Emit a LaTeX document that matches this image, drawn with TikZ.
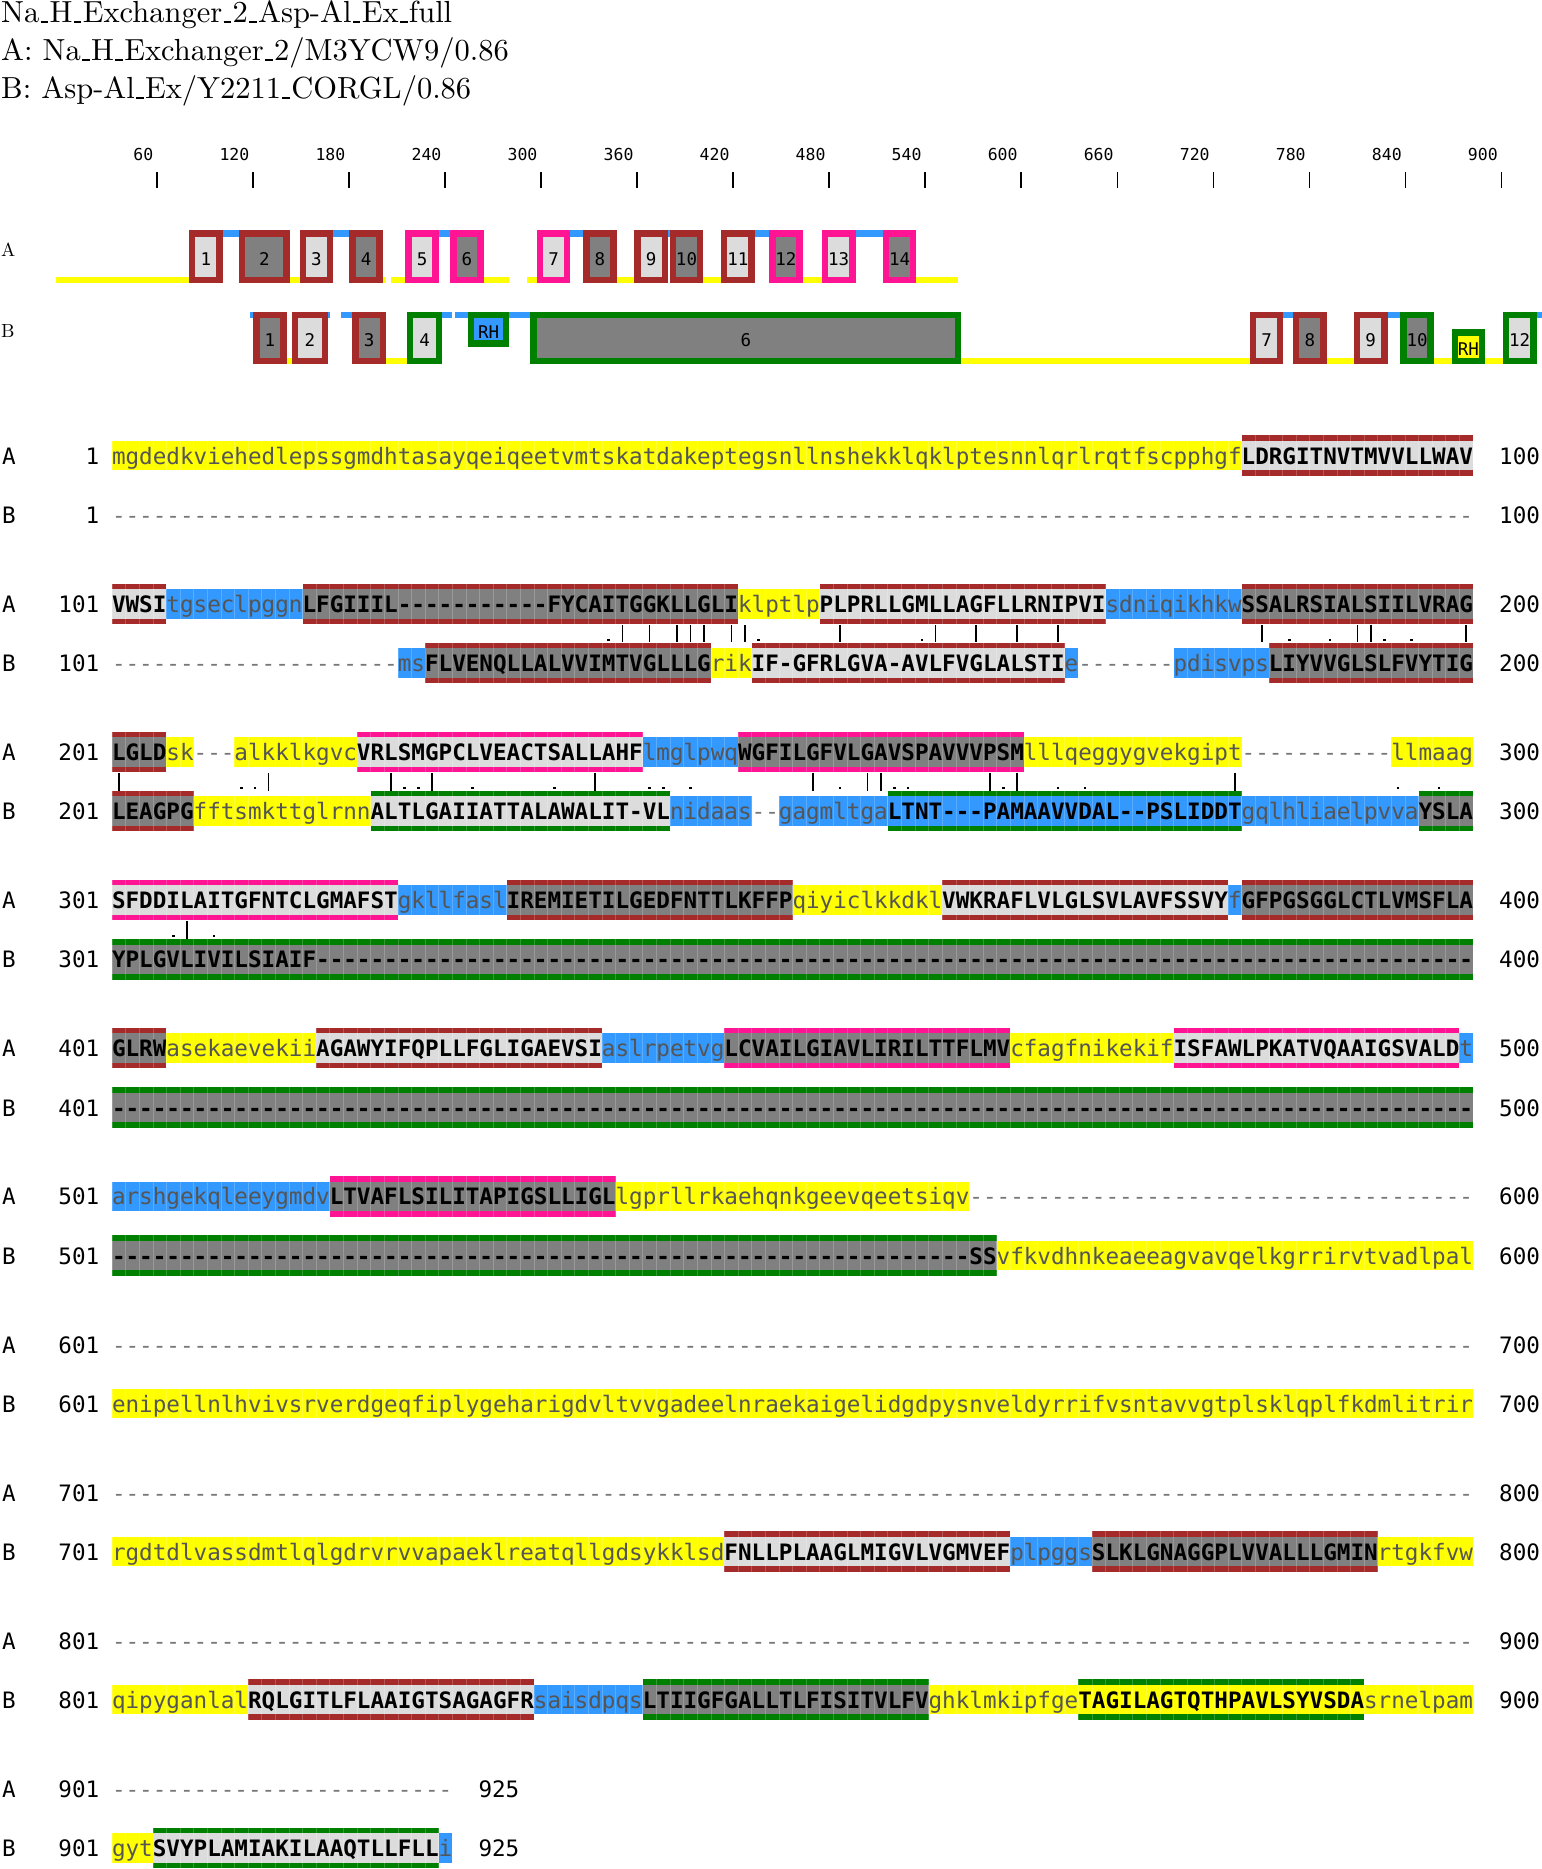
\documentclass[tikz,border=0pt]{standalone}
\usepackage{fontspec}
\setmonofont{DejaVu Sans Mono}
\newfontfamily\titlefnt{lmroman10-regular.otf}
\definecolor{cyel}{HTML}{FFFF00}
\definecolor{cblue}{HTML}{3399FF}
\definecolor{tmdk}{HTML}{808080}
\definecolor{tmlt}{HTML}{DCDCDC}
\definecolor{cbrown}{HTML}{A52A2A}
\definecolor{cpink}{HTML}{FF1493}
\definecolor{cgreen}{HTML}{008000}
\definecolor{lowcol}{HTML}{555555}
\definecolor{gapcol}{HTML}{777777}
\newcommand\seqfnt{\ttfamily\fontsize{22.6}{24}\selectfont}
\newcommand\lblfnt{\ttfamily\fontsize{17.5}{18}\selectfont}
\newcommand\rulfnt{\ttfamily\fontsize{16.5}{17}\selectfont}
\newcommand\us{\kern1.4pt\rule[-1pt]{7.5pt}{1.6pt}\kern1.4pt}
\tikzset{
  seqtxt/.style={anchor=base,inner sep=0pt,font=\seqfnt},
  numtxt/.style={inner sep=0pt,font=\seqfnt},
  boxlbl/.style={anchor=base,inner sep=0pt,font=\lblfnt},
  sepline/.style={draw=white,draw opacity=0.2,line width=0.6pt},
  titletxt/.style={anchor=base west,inner sep=0pt,font=\titlefnt\fontsize{30.5}{32}\selectfont},
}
\newcount\xcol
\newcount\xlen
\def\xgobble#1{}
\def\xfirst#1{#1}
\def\xcountloop#1{\ifx\relax#1\expandafter\xgobble\else\expandafter\xfirst\fi{\global\advance\xlen by 1 \xcountloop}}
\def\xputloop#1{\ifx\relax#1\expandafter\xgobble\else\expandafter\xfirst\fi{\xputchar{#1}\xputloop}}
\def\xputchar#1{\node[seqtxt] at ({112+13.61*(\the\xcol-0.5)},\xcy) {\xstyle #1};\global\advance\xcol by 1 }
\newcommand\SegSep[4]{\foreach \i in {0,...,#3}{\draw[sepline] ({112+13.61*(#2-1+\i)},#1-#4) -- ({112+13.61*(#2-1+\i)},#1+#4);}}
\newcommand\SegPlain[4]{%
  \global\xlen=0 \xcountloop#3\relax
  \edef\xn{\the\xlen}%
  \fill[#4] ({112+13.61*(#2-1)},#1-14.7) rectangle ({112+13.61*(#2-1+\xn)},#1+14.7);
  \SegSep{#1}{#2}{\xn}{14.7}%
  \def\xcy{#1+8.7}\def\xstyle{\color{lowcol}}%
  \global\xcol=#2\relax
  \xputloop#3\relax}
\newcommand\SegY[3]{\SegPlain{#1}{#2}{#3}{cyel}}
\newcommand\SegL[3]{\SegPlain{#1}{#2}{#3}{cblue}}
\newcommand\SegFrame[5]{% yc, j, n, fill, bar
  \fill[#4] ({112+13.61*(#2-1)},#1-14.7) rectangle ({112+13.61*(#2-1+#3)},#1+14.7);
  \fill[#5] ({112+13.61*(#2-1)},#1-20.3) rectangle ({112+13.61*(#2-1+#3)},#1-14.7);
  \fill[#5] ({112+13.61*(#2-1)},#1+14.7) rectangle ({112+13.61*(#2-1+#3)},#1+20.3);
  \SegSep{#1}{#2}{#3}{20.3}}
\newcommand\SegT[5]{% yc, j, fill, bar, text
  \global\xlen=0 \xcountloop#5\relax
  \edef\xn{\the\xlen}%
  \SegFrame{#1}{#2}{\xn}{#3}{#4}%
  \def\xcy{#1+8.7}\def\xstyle{\bfseries}%
  \global\xcol=#2\relax
  \xputloop#5\relax}
\newcommand\SegTD[5]{% yc, j, n, fill, bar
  \SegFrame{#1}{#2}{#3}{#4}{#5}%
  \foreach \i in {1,...,#3}{\node[seqtxt] at ({112+13.61*(#2+\i-1.5)},#1+8.7) {\bfseries -};}}
\newcommand\SegG[3]{\foreach \i in {1,...,#3}{\node[seqtxt,text=gapcol] at ({112+13.61*(#2+\i-1.5)},#1+8.7) {-};}}
\newcommand\TSeg[5]{\fill[#5] ({54.4+1.6023*#1},#3) rectangle ({54.4+1.6023*(#2+1)},#4);}
\newcommand\TBox[8]{%
  \draw[line width=6.5pt,draw=#6,fill=#5] ({54.4+1.6023*#1+3.25},#3+3.25) rectangle ({54.4+1.6023*(#2+1)-3.25},#4-3.25);
  \node[boxlbl] at ({54.4+1.6023*(#1+#2+1)/2},#8) {#7};}
\newcommand\RowLabs[5]{%
  \node[numtxt,anchor=base west] at (1.8,#1+8.7) {A};
  \node[numtxt,anchor=base east] at (99.5,#1+8.7) {#3};
  \node[numtxt,anchor=base west] at (#5,#1+8.7) {#4};
  \node[numtxt,anchor=base west] at (1.8,#2+8.7) {B};
  \node[numtxt,anchor=base east] at (99.5,#2+8.7) {#3};
  \node[numtxt,anchor=base west] at (#5,#2+8.7) {#4};}
\newcommand\MBar[2]{\draw[line width=1.5pt] ({112+13.61*(#2-0.5)},#1+21) -- ({112+13.61*(#2-0.5)},#1+38.6);}
\newcommand\MDot[2]{\fill ({112+13.61*(#2-0.5)-1.3},#1+34.8) rectangle ++(2.6,2.6);}
\begin{document}
\begin{tikzpicture}[x=1pt,y=-1pt]
\fill[white] (0,0) rectangle (1542,1869);
\useasboundingbox (0,0) rectangle (1542,1869);
% title
\node[titletxt] (t1) at (1,22) {Na\us H\us Exchanger\us 2\us Asp-Al\us Ex\us full};
\node[titletxt] (t2) at (1,60) {A: Na\us H\us Exchanger\us 2/M3YCW9/0.86};
\node[titletxt] (t3) at (1,98) {B: Asp-Al\us Ex/Y2211\us CORGL/0.86};
% ruler
\foreach \v [count=\k from 0] in {60,120,...,900}{
  \draw[line width=1.6pt] ({157+96.03*\k},172) -- ({157+96.03*\k},188);
  \node[anchor=base east,inner sep=0pt,font=\rulfnt] at ({157+96.03*\k-3.5},160) {\v};
}
% track labels
\node[anchor=base west,inner sep=0pt,font=\titlefnt\fontsize{19}{19}\selectfont] (ta) at (1,256.7) {A};
\node[anchor=base west,inner sep=0pt,font=\titlefnt\fontsize{19}{19}\selectfont] (tb) at (1,337.7) {B};
% track A lines
\foreach \a/\b in {1/83,147/152,205/206,210/218,268/283,295/300,351/361,405/415,467/478,538/563}{\TSeg{\a}{\b}{277.3}{283.3}{cyel}}
\foreach \a/\b in {105/114,174/183,240/246,322/329,383/383,437/445,500/516}{\TSeg{\a}{\b}{230}{236.7}{cblue}}
% track A boxes
\TBox{84}{104}{230}{283.3}{tmlt}{cbrown}{1}{265.7}
\TBox{115}{146}{230}{283.3}{tmdk}{cbrown}{2}{265.7}
\TBox{153}{173}{230}{283.3}{tmlt}{cbrown}{3}{265.7}
\TBox{184}{204}{230}{283.3}{tmdk}{cbrown}{4}{265.7}
\TBox{219}{239}{230}{283.3}{tmlt}{cpink}{5}{265.7}
\TBox{247}{267}{230}{283.3}{tmdk}{cpink}{6}{265.7}
\TBox{301}{321}{230}{283.3}{tmlt}{cpink}{7}{265.7}
\TBox{330}{350}{230}{283.3}{tmdk}{cbrown}{8}{265.7}
\TBox{362}{382}{230}{283.3}{tmlt}{cbrown}{9}{265.7}
\TBox{384}{404}{230}{283.3}{tmdk}{cbrown}{10}{265.7}
\TBox{416}{436}{230}{283.3}{tmlt}{cbrown}{11}{265.7}
\TBox{446}{466}{230}{283.3}{tmdk}{cpink}{12}{265.7}
\TBox{479}{499}{230}{283.3}{tmlt}{cpink}{13}{265.7}
\TBox{517}{537}{230}{283.3}{tmdk}{cpink}{14}{265.7}
% track B lines
\foreach \a/\b in {122/123,171/171,179/185,242/247,250/257,284/296,767/772,832/839}{\TSeg{\a}{\b}{311.7}{318.3}{cblue}}
\fill[cblue] ({54.4+1.6023*925},311.7) rectangle (1542,318.3);
\foreach \a/\b in {145/147,207/219,566/745,794/810,861/871,893/903}{\TSeg{\a}{\b}{358.3}{364.3}{cyel}}
% track B boxes
\TBox{124}{144}{311.7}{364.3}{tmdk}{cbrown}{1}{346.7}
\TBox{148}{170}{311.7}{364.3}{tmlt}{cbrown}{2}{346.7}
\TBox{186}{206}{311.7}{364.3}{tmdk}{cbrown}{3}{346.7}
\TBox{220}{241}{311.7}{364.3}{tmlt}{cgreen}{4}{346.7}
\TBox{258}{283}{311.7}{346.7}{cblue}{cgreen}{RH}{338.3}
\TBox{297}{565}{311.7}{364.3}{tmdk}{cgreen}{6}{346.7}
\TBox{746}{766}{311.7}{364.3}{tmlt}{cbrown}{7}{346.7}
\TBox{773}{793}{311.7}{364.3}{tmdk}{cbrown}{8}{346.7}
\TBox{811}{831}{311.7}{364.3}{tmlt}{cbrown}{9}{346.7}
\TBox{840}{860}{311.7}{364.3}{tmdk}{cgreen}{10}{346.7}
\TBox{872}{892}{329}{364.3}{cyel}{cgreen}{RH}{355.7}
\TBox{904}{924}{311.7}{364.3}{tmlt}{cgreen}{12}{346.7}
% ===== alignment =====
% block 0
\SegY{455.7}{1}{mgdedkviehedlepssgmdhtasayqeiqeetvmtskatdakeptegsnllnshekklqklptesnnlqrlrqtfscpphgf}
\SegT{455.7}{84}{tmlt}{cbrown}{LDRGITNVTMVVLLWAV}
\SegG{514.9}{1}{100}
\RowLabs{455.7}{514.9}{1}{100}{1499}
% block 1
\SegT{603.8}{1}{tmlt}{cbrown}{VWSI}
\SegL{603.8}{5}{tgseclpggn}
\SegT{603.8}{15}{tmdk}{cbrown}{LFGIIIL-----------FYCAITGGKLLGLI}
\SegY{603.8}{47}{klptlp}
\SegT{603.8}{53}{tmlt}{cbrown}{PLPRLLGMLLAGFLLRNIPVI}
\SegL{603.8}{74}{sdniqikhkw}
\SegT{603.8}{84}{tmdk}{cbrown}{SSALRSIALSIILVRAG}
\SegG{663}{1}{21}
\SegL{663}{22}{ms}
\SegT{663}{24}{tmdk}{cbrown}{FLVENQLLALVVIMTVGLLLG}
\SegY{663}{45}{rik}
\SegT{663}{48}{tmlt}{cbrown}{IF-GFRLGVA-AVLFVGLALSTI}
\SegL{663}{71}{e}
\SegG{663}{72}{7}
\SegL{663}{79}{pdisvps}
\SegT{663}{86}{tmdk}{cbrown}{LIYVVGLSLFVYTIG}
\RowLabs{603.8}{663}{101}{200}{1499}
\foreach \j in {38,40,42,43,44,46,47,54,61,64,67,70,85,92,93,100}{\MBar{603.8}{\j}}
\foreach \j in {37,48,60,87,90,94,96}{\MDot{603.8}{\j}}
% block 2
\SegT{751.9}{1}{tmdk}{cbrown}{LGLD}
\SegY{751.9}{5}{sk}
\SegG{751.9}{7}{3}
\SegY{751.9}{10}{alkklkgvc}
\SegT{751.9}{19}{tmlt}{cpink}{VRLSMGPCLVEACTSALLAHF}
\SegL{751.9}{40}{lmglpwq}
\SegT{751.9}{47}{tmdk}{cpink}{WGFILGFVLGAVSPAVVVPSM}
\SegY{751.9}{68}{lllqeggygvekgipt}
\SegG{751.9}{84}{11}
\SegY{751.9}{95}{llmaag}
\SegT{811.1}{1}{tmdk}{cbrown}{LEAGPG}
\SegY{811.1}{7}{fftsmkttglrnn}
\SegT{811.1}{20}{tmlt}{cgreen}{ALTLGAIIATTALAWALIT-VL}
\SegL{811.1}{42}{nidaas}
\SegG{811.1}{48}{2}
\SegL{811.1}{50}{gagmltga}
\SegT{811.1}{58}{cblue}{cgreen}{LTNT---PAMAAVVDAL--PSLIDDT}
\SegL{811.1}{84}{gqlhliaelpvva}
\SegT{811.1}{97}{tmdk}{cgreen}{YSLA}
\RowLabs{751.9}{811.1}{201}{300}{1499}
\foreach \j in {1,12,21,24,36,52,56,57,65,67,83}{\MBar{751.9}{\j}}
\foreach \j in {10,11,22,23,27,33,40,41,43,54,58,59,66,70,72,95,98}{\MDot{751.9}{\j}}
% block 3
\SegT{900}{1}{tmlt}{cpink}{SFDDILAITGFNTCLGMAFST}
\SegL{900}{22}{gkllfasl}
\SegT{900}{30}{tmdk}{cbrown}{IREMIETILGEDFNTTLKFFP}
\SegY{900}{51}{qiyiclkkdkl}
\SegT{900}{62}{tmlt}{cbrown}{VWKRAFLVLGLSVLAVFSSVY}
\SegL{900}{83}{f}
\SegT{900}{84}{tmdk}{cbrown}{GFPGSGGLCTLVMSFLA}
\SegT{959.2}{1}{tmdk}{cgreen}{YPLGVLIVILSIAIF}
\SegTD{959.2}{16}{85}{tmdk}{cgreen}
\RowLabs{900}{959.2}{301}{400}{1499}
\MBar{900}{6}
\MDot{900}{5}\MDot{900}{8}
% block 4
\SegT{1048.1}{1}{tmdk}{cbrown}{GLRW}
\SegY{1048.1}{5}{asekaevekii}
\SegT{1048.1}{16}{tmlt}{cbrown}{AGAWYIFQPLLFGLIGAEVSI}
\SegL{1048.1}{37}{aslrpetvg}
\SegT{1048.1}{46}{tmdk}{cpink}{LCVAILGIAVLIRILTTFLMV}
\SegY{1048.1}{67}{cfagfnikekif}
\SegT{1048.1}{79}{tmlt}{cpink}{ISFAWLPKATVQAAIGSVALD}
\SegL{1048.1}{100}{t}
\SegTD{1107.3}{1}{100}{tmdk}{cgreen}
\RowLabs{1048.1}{1107.3}{401}{500}{1499}
% block 5
\SegL{1196.2}{1}{arshgekqleeygmdv}
\SegT{1196.2}{17}{tmdk}{cpink}{LTVAFLSILITAPIGSLLIGL}
\SegY{1196.2}{38}{lgprllrkaehqnkgeevqeetsiqv}
\SegG{1196.2}{64}{37}
\SegTD{1255.4}{1}{63}{tmdk}{cgreen}
\SegT{1255.4}{64}{tmdk}{cgreen}{SS}
\SegY{1255.4}{66}{vfkvdhnkeaeeagvavqelkgrrirvtvadlpal}
\RowLabs{1196.2}{1255.4}{501}{600}{1499}
% block 6
\SegG{1344.3}{1}{100}
\SegY{1403.5}{1}{enipellnlhvivsrverdgeqfiplygeharigdvltvvgadeelnraekaigelidgdpysnveldyrrifvsntavvgtplsklqplfkdmlitrir}
\RowLabs{1344.3}{1403.5}{601}{700}{1499}
% block 7
\SegG{1492.4}{1}{100}
\SegY{1551.6}{1}{rgdtdlvassdmtlqlgdrvrvvapaeklreatqllgdsykklsd}
\SegT{1551.6}{46}{tmlt}{cbrown}{FNLLPLAAGLMIGVLVGMVEF}
\SegL{1551.6}{67}{plpggs}
\SegT{1551.6}{73}{tmdk}{cbrown}{SLKLGNAGGPLVVALLLGMIN}
\SegY{1551.6}{94}{rtgkfvw}
\RowLabs{1492.4}{1551.6}{701}{800}{1499}
% block 8
\SegG{1640.5}{1}{100}
\SegY{1699.7}{1}{qipyganlal}
\SegT{1699.7}{11}{tmlt}{cbrown}{RQLGITLFLAAIGTSAGAGFR}
\SegL{1699.7}{32}{saisdpqs}
\SegT{1699.7}{40}{tmdk}{cgreen}{LTIIGFGALLTLFISITVLFV}
\SegY{1699.7}{61}{ghklmkipfge}
\SegT{1699.7}{72}{cyel}{cgreen}{TAGILAGTQTHPAVLSYVSDA}
\SegY{1699.7}{93}{srnelpam}
\RowLabs{1640.5}{1699.7}{801}{900}{1499}
% block 9
\SegG{1788.6}{1}{25}
\SegY{1847.8}{1}{gyt}
\SegT{1847.8}{4}{tmlt}{cgreen}{SVYPLAMIAKILAAQTLLFLL}
\SegL{1847.8}{25}{i}
\RowLabs{1788.6}{1847.8}{901}{925}{478.3}
\end{tikzpicture}
\end{document}
